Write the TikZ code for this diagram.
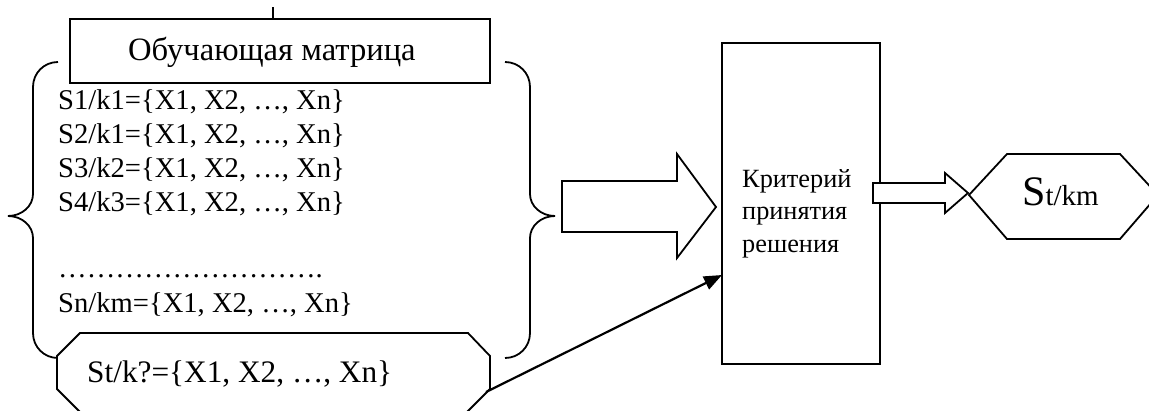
\documentclass[tikz,border=0pt]{standalone}
\usepackage{fontspec}
\setmainfont{Liberation Serif}
\usetikzlibrary{arrows.meta}
\begin{document}
\begin{tikzpicture}[x=1pt,y=-1pt,
  line/.style={line width=1.8pt, line join=miter},
  rowtxt/.style={anchor=base west, inner sep=0pt, font=\fontsize{28.6}{33}\selectfont},
  crittxt/.style={anchor=base west, inner sep=0pt, font=\fontsize{26.3}{32}\selectfont},
  boxnode/.style={draw, line, fill=white, inner sep=0pt},
  blockarrow/.style={draw, line, fill=white},
  thinarrow/.style={line width=2.2pt, -{Triangle[length=18pt,width=14pt]}}
]
\useasboundingbox (0,0) rectangle (1149,410);
\begin{scope}
\clip (0,0) rectangle (1149,410);
% braces
\draw[line] (58,62) .. controls (44,62) and (33,73) .. (33,87) -- (33,194)
  .. controls (33,206) and (22,216) .. (8,216)
  .. controls (22,216) and (33,226) .. (33,238) -- (33,333)
  .. controls (33,347) and (44,358) .. (58,358);
\draw[line] (505,62) .. controls (519,62) and (530,73) .. (530,87) -- (530,194)
  .. controls (530,206) and (541,216) .. (555,216)
  .. controls (541,216) and (530,226) .. (530,238) -- (530,333)
  .. controls (530,347) and (519,358) .. (505,358);
% training matrix box
\node[boxnode, minimum width=420pt, minimum height=64pt] (mbox) at (280,51) {};
\node[anchor=base west, inner sep=0pt, font=\fontsize{32.6}{36}\selectfont] (mtitle) at (128,60) {Обучающая матрица};
\coordinate (vtop) at (273,7);
\draw[line] (vtop) -- (vtop |- mbox.north);
% rows
\node[rowtxt] (r1) at (58,109) {S1/k1=\{X1, X2, …, Xn\}};
\node[rowtxt] (r2) at (58,143) {S2/k1=\{X1, X2, …, Xn\}};
\node[rowtxt] (r3) at (58,177) {S3/k2=\{X1, X2, …, Xn\}};
\node[rowtxt] (r4) at (58,211) {S4/k3=\{X1, X2, …, Xn\}};
\node[rowtxt] (rdots) at (58,277) {……………………….};
\node[rowtxt] (rn) at (58,312) {Sn/km=\{X1, X2, …, Xn\}};
% unknown sample octagon
\draw[line, fill=white] (80,333) -- (468,333) -- (490,356) -- (490,389) -- (467,412)
  -- (80,412) -- (57,389) -- (57,356) -- cycle;
\node[anchor=base west, inner sep=0pt, font=\fontsize{31.3}{36}\selectfont] (stq) at (87,382) {St/k?=\{X1, X2, …, Xn\}};
% big block arrow
\draw[blockarrow] (562,181) -- (677,181) -- (677,154) -- (716,207) -- (677,258)
  -- (677,232) -- (562,232) -- cycle;
% decision box
\node[boxnode, minimum width=158pt, minimum height=321pt] (crit) at (801,203.5) {};
\node[crittxt] (c1) at (742,187) {Критерий};
\node[crittxt] (c2) at (742,219) {принятия};
\node[crittxt] (c3) at (742,252) {решения};
% small block arrow
\draw[blockarrow] (873,183) -- (945,183) -- (945,173) -- (968,193) -- (945,213)
  -- (945,203) -- (873,203) -- cycle;
% result hexagon
\draw[line] (969,195) -- (1007,154) -- (1120,154) -- (1158,195) -- (1120,239)
  -- (1007,239) -- cycle;
\node[anchor=base west, inner sep=0pt] (res) at (1022,205)
  {\fontsize{42}{42}\selectfont S\fontsize{29}{29}\selectfont t/km};
% thin arrow
\coordinate (aout) at (486,392);
\coordinate (ain) at (722,275);
\draw[thinarrow] (aout) -- (ain);
\end{scope}
\end{tikzpicture}
\end{document}
